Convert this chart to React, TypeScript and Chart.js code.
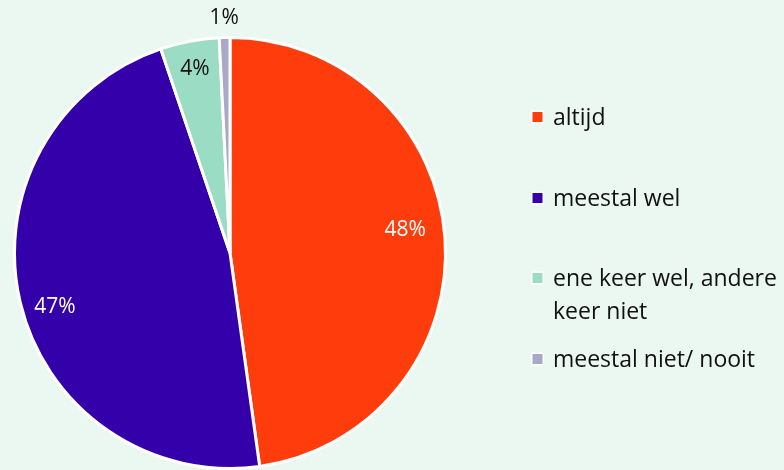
import React, { useEffect, useRef } from "react";
import { Chart, registerables } from "chart.js";

Chart.register(...registerables);

const categories = ["altijd", "meestal wel", "ene keer wel, andere keer niet", "meestal niet/ nooit"];
const values = [47.8, 47.0, 4.4, 0.8];
const valueLabels = ["48%", "47%", "4%", "1%"];

// styling / label placement
const colors = ["#FF3D0C", "#3300AA", "#9ADCC4", "#A9A8C7"];
const labelColors = ["#FFFFFF", "#FFFFFF", "#111111", "#111111"];
const labelRadius = [0.82, 0.85, 0.87, 1.09];
const labelAngleShiftDeg = [-3.5, -3.8, 0, 0];

const BG = "#EBF7F1";
const FONT_FAMILY = "'Open Sans', sans-serif";

const bgPlugin = {
  id: "bg",
  beforeDraw(chart: any) {
    const { ctx, width, height } = chart;
    ctx.save();
    ctx.fillStyle = BG;
    ctx.fillRect(0, 0, width, height);
    ctx.restore();
  },
};

const labelPlugin = {
  id: "sliceLabels",
  afterDatasetsDraw(chart: any) {
    const { ctx } = chart;
    const meta = chart.getDatasetMeta(0);
    ctx.save();
    ctx.font = `21px ${FONT_FAMILY}`;
    ctx.textAlign = "center";
    ctx.textBaseline = "middle";
    meta.data.forEach((arc: any, i: number) => {
      const p = arc.getProps(["x", "y", "startAngle", "endAngle", "outerRadius"], true);
      const mid = (p.startAngle + p.endAngle) / 2 + (labelAngleShiftDeg[i] * Math.PI) / 180;
      const r = p.outerRadius * labelRadius[i];
      ctx.fillStyle = labelColors[i];
      ctx.fillText(valueLabels[i], p.x + Math.cos(mid) * r, p.y + Math.sin(mid) * r);
    });
    ctx.restore();
  },
};

const legendPlugin = {
  id: "customLegend",
  afterDraw(chart: any) {
    const { ctx } = chart;
    const x0 = 537.5;
    const textX = 553;
    const maxW = 784 - textX - 2;
    const lineH = 33;
    const itemStep = 80.7;
    const firstBaseline = 125;
    ctx.save();
    ctx.font = `23px ${FONT_FAMILY}`;
    ctx.textBaseline = "alphabetic";
    ctx.textAlign = "left";
    chart.data.labels.forEach((label: string, i: number) => {
      const words = label.split(" ");
      const lines: string[] = [];
      let cur = "";
      words.forEach((w) => {
        const test = cur ? cur + " " + w : w;
        if (ctx.measureText(test).width > maxW && cur) {
          lines.push(cur);
          cur = w;
        } else {
          cur = test;
        }
      });
      if (cur) lines.push(cur);
      const baseline = Math.round(firstBaseline + i * itemStep);
      const my = baseline - 8;
      ctx.fillStyle = "#FFFFFF";
      ctx.fillRect(x0 - 6.5, my - 6.5, 13, 13);
      ctx.fillStyle = colors[i];
      ctx.fillRect(x0 - 5, my - 5, 10, 10);
      ctx.fillStyle = "#111111";
      lines.forEach((ln, j) => {
        ctx.fillText(ln, textX, baseline + j * lineH);
      });
    });
    ctx.restore();
  },
};

export default function App() {
  const ref = useRef<HTMLCanvasElement>(null);
  useEffect(() => {
    if (!ref.current) return;
    const chart = new Chart(ref.current, {
      type: "pie",
      data: {
        labels: categories,
        datasets: [
          {
            data: values,
            backgroundColor: colors,
            borderColor: "#FFFFFF",
            borderWidth: 3,
          },
        ],
      },
      options: {
        responsive: false,
        animation: false,
        layout: { padding: { left: 13, right: 337, top: 36, bottom: 0 } },
        plugins: {
          legend: { display: false },
          tooltip: { enabled: false },
        },
      },
      plugins: [bgPlugin, labelPlugin, legendPlugin],
    });
    return () => chart.destroy();
  }, []);
  return (
    <div style={{ position: "fixed", left: 0, top: 0, width: 784, height: 470, background: BG }}>
      <canvas ref={ref} width={784} height={470} style={{ display: "block", width: 784, height: 470 }} />
    </div>
  );
}
